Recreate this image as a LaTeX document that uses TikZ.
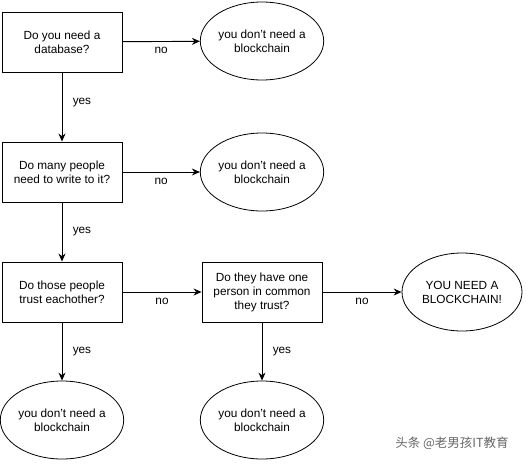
\documentclass[tikz,border=0pt]{standalone}
\usepackage{fontspec}
\setmainfont{Liberation Sans}
\newfontfamily\cjk{Noto Sans CJK SC}
\usetikzlibrary{arrows.meta,shapes.geometric}
\begin{document}
\begin{tikzpicture}[x=1pt,y=-1pt,
  every node/.style={font=\fontsize{11.8}{14}\selectfont},
  qbox/.style={draw,line width=0.9pt,minimum width=120pt,minimum height=60pt,align=center,inner sep=0pt},
  ans/.style={draw,ellipse,line width=0.8pt,minimum width=120pt,minimum height=78pt,align=center,inner sep=0pt},
  conn/.style={line width=0.9pt,-{Stealth[length=8pt,width=7pt]}},
  lbl/.style={font=\fontsize{11.8}{14}\selectfont}]
\useasboundingbox (0,0) rectangle (526,463);
\node[qbox] (q1) at (62,42) {Do you need a\\database?};
\node[ans] (a1) at (262,41) {you don't need a\\blockchain};
\node[qbox] (q2) at (62,172) {Do many people\\need to write to it?};
\node[ans] (a2) at (262,172) {you don't need a\\blockchain};
\node[qbox] (q3) at (62,292) {Do those people\\trust eachother?};
\node[qbox] (q4) at (262,292) {Do they have one\\person in common\\they trust?};
\node[ans] (a3) at (462,292) {YOU NEED A\\BLOCKCHAIN!};
\node[ans] (a4) at (62,420) {you don't need a\\blockchain};
\node[ans] (a5) at (262,420) {you don't need a\\blockchain};
\draw[conn] (q1) -- (a1) node[lbl,pos=0.5,below=2pt] {no};
\draw[conn] (q1) -- (q2) node[lbl,pos=0.43,right=7pt] {yes};
\draw[conn] (q2) -- (a2) node[lbl,pos=0.5,below=2pt] {no};
\draw[conn] (q2) -- (q3) node[lbl,pos=0.5,right=7pt] {yes};
\draw[conn] (q3) -- (q4) node[lbl,pos=0.5,below=2pt] {no};
\draw[conn] (q4.east) -- (a3.west) node[lbl,pos=0.5,below=2pt] {no};
\draw[conn] (q3) -- (a4) node[lbl,pos=0.5,right=7pt] {yes};
\draw[conn] (q4) -- (a5) node[lbl,pos=0.5,right=7pt] {yes};
\node[font=\cjk\fontsize{12.5}{14}\selectfont,text=black!60] (wm) at (452,443) {头条 @老男孩IT教育};
\end{tikzpicture}
\end{document}
